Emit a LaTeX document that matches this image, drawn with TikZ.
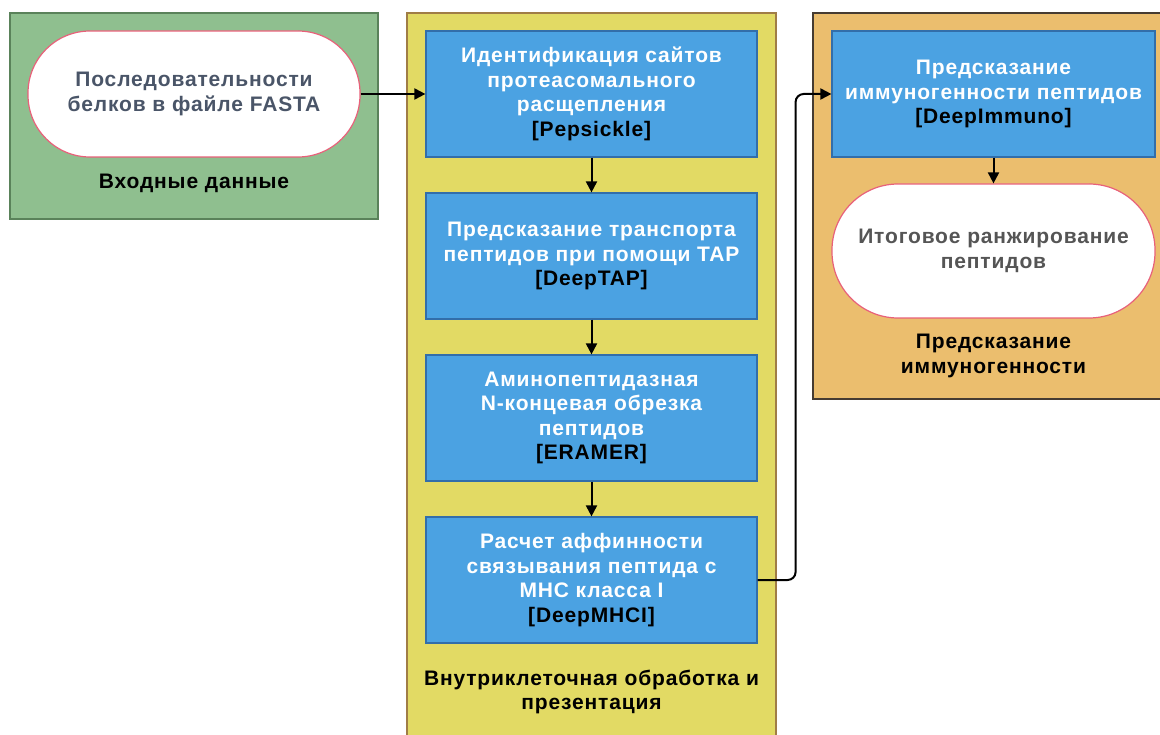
\documentclass[tikz,border=0pt]{standalone}
\usepackage{fontspec}
\setmainfont{Liberation Sans}[LetterSpace=4]
\usetikzlibrary{arrows.meta,positioning}
\definecolor{grpgreen}{RGB}{143,191,143}
\definecolor{grpgreenline}{RGB}{90,130,90}
\definecolor{grpyellow}{RGB}{226,218,100}
\definecolor{grpyellowline}{RGB}{160,125,70}
\definecolor{grporange}{RGB}{235,190,110}
\definecolor{grporangeline}{RGB}{70,60,50}
\definecolor{procblue}{RGB}{75,162,226}
\definecolor{procline}{RGB}{50,110,170}
\definecolor{termpink}{RGB}{232,97,122}
\definecolor{slatetext}{RGB}{74,85,104}
\definecolor{graytext}{RGB}{85,85,85}

\begin{document}
\begin{tikzpicture}[x=1pt, y=-1pt,
    grp/.style={rectangle, draw, line width=1.2pt, inner sep=0pt},
    proc/.style={rectangle, draw=procline, fill=procblue, line width=1.2pt,
                 minimum width=331pt, minimum height=126pt, align=center,
                 text=white, font=\bfseries\fontsize{21}{24.5}\selectfont},
    term/.style={rectangle, draw=termpink, fill=white, line width=1.2pt,
                 minimum height=126pt, align=center,
                 font=\bfseries\fontsize{21}{24.5}\selectfont},
    grplabel/.style={align=center, font=\bfseries\fontsize{21}{24.5}\selectfont},
    edge/.style={-{Triangle[length=11pt,width=11pt]}, line width=2pt}
]
\useasboundingbox (0,0) rectangle (1160,735);

% Groups
\node[grp, fill=grpgreen, draw=grpgreenline, minimum width=368pt, minimum height=206pt] (gin) at (194,116) {};
\node[grp, fill=grpyellow, draw=grpyellowline, minimum width=369pt, minimum height=734pt] (gproc) at (591.5,380) {};
\node[grp, fill=grporange, draw=grporangeline, minimum width=352pt, minimum height=386pt] (gimm) at (989,206) {};

% Input
\node[term, rounded corners=62pt, minimum width=332pt, text=slatetext] (in) at (194,94)
    {Последовательности\\белков в файле FASTA};
\node[grplabel] (lin) at (194,183) {Входные данные};

% Processing chain
\node[proc] (b1) at (591.5,94)
    {Идентификация сайтов\\протеасомального\\расщепления\\\textcolor{black}{[Pepsickle]}};
\node[proc] (b2) at (591.5,256)
    {Предсказание транспорта\\пептидов при помощи TAP\\\textcolor{black}{[DeepTAP]}};
\node[proc] (b3) at (591.5,418)
    {Аминопептидазная\\N-концевая обрезка\\пептидов\\\textcolor{black}{[ERAMER]}};
\node[proc] (b4) at (591.5,580)
    {Расчет аффинности\\связывания пептида с\\MHC класса I\\\textcolor{black}{[DeepMHCI]}};
\node[grplabel] (lproc) at (591.5,692) {Внутриклеточная обработка и\\презентация};

% Immunogenicity
\node[proc, minimum width=323pt] (b5) at (993.5,94)
    {Предсказание\\иммуногенности пептидов\\\textcolor{black}{[DeepImmuno]}};
\node[term, rounded corners=66pt, minimum width=323pt, minimum height=134pt, text=graytext] (out) at (993.5,251)
    {Итоговое ранжирование\\пептидов};
\node[grplabel] (limm) at (993.5,356) {Предсказание\\иммуногенности};

% Connectors
\draw[edge] (in) -- (b1);
\draw[edge] (b1) -- (b2);
\draw[edge] (b2) -- (b3);
\draw[edge] (b3) -- (b4);
\draw[edge, rounded corners=8pt] (b4.east) -- ++(38,0) |- (b5.west);
\draw[edge] (b5) -- (out);

\end{tikzpicture}
\end{document}
